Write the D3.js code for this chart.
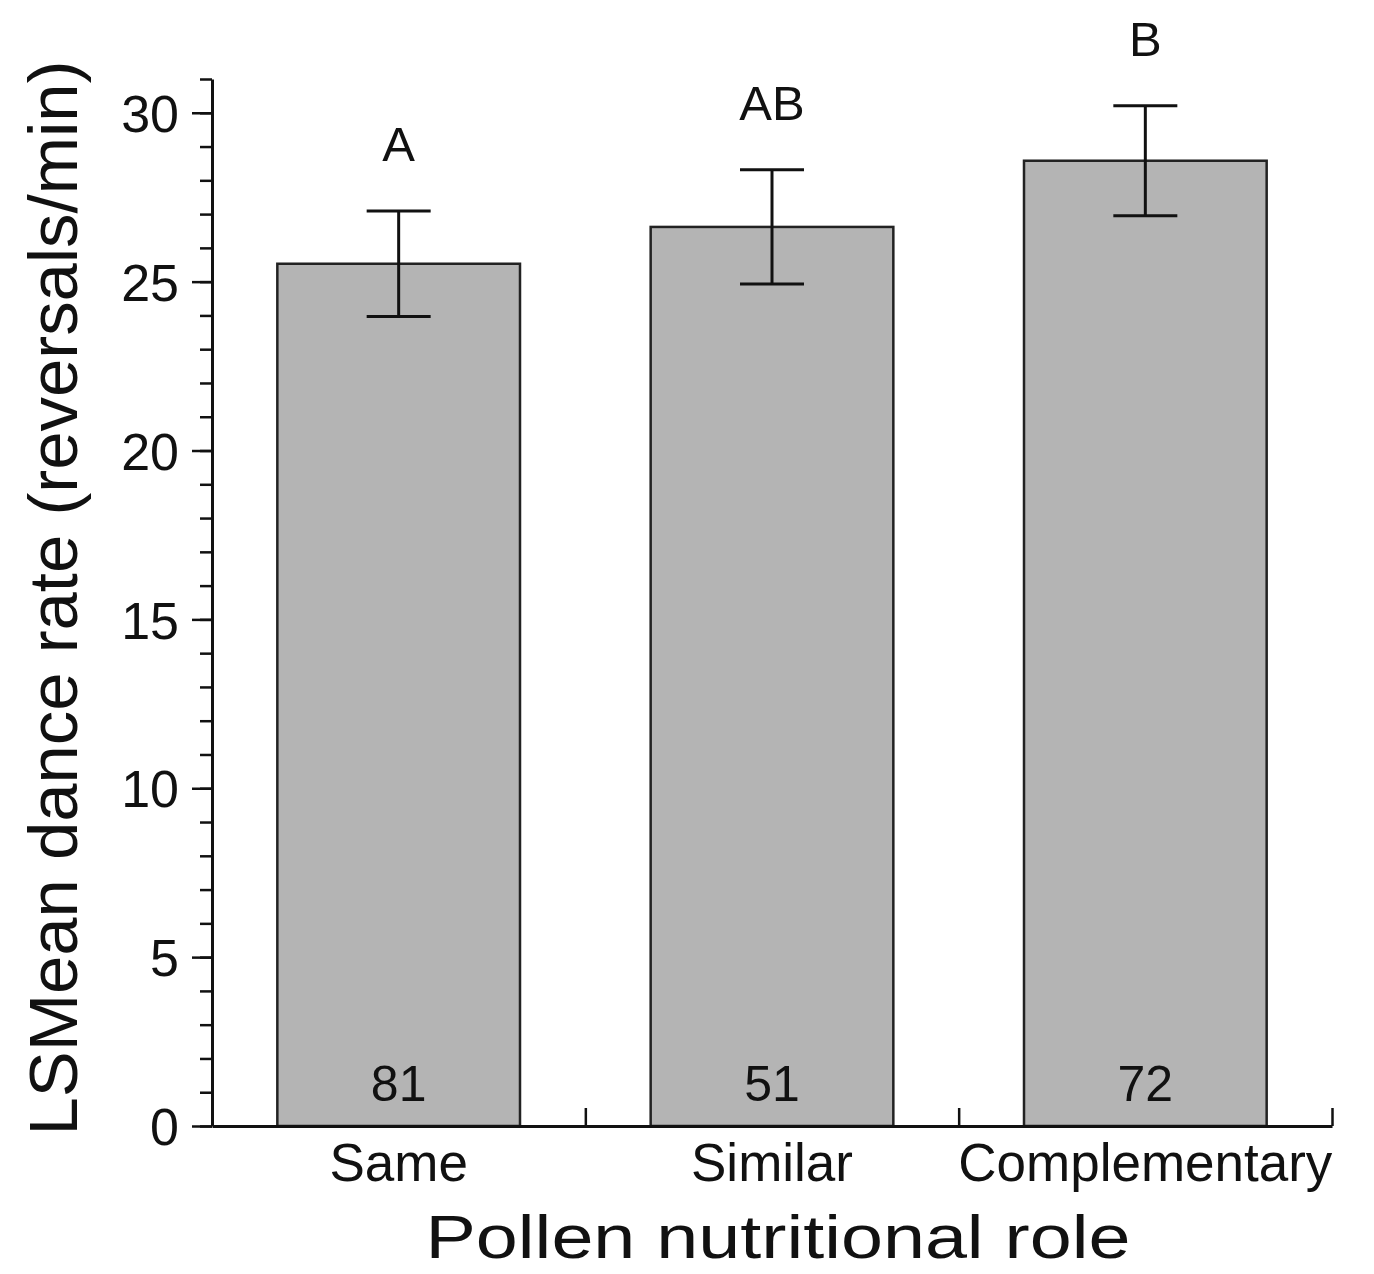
<!DOCTYPE html>
<html><head><meta charset="utf-8">
<script src="https://cdn.jsdelivr.net/npm/d3@7"></script>
<style>body{margin:0;background:#fff}svg{display:block}text{font-family:"Liberation Sans",Arial,sans-serif;fill:#111}</style>
</head><body>
<script>
const categories = ["Same", "Similar", "Complementary"];
const means = [25.53, 26.62, 28.58];
const errors = [1.56, 1.69, 1.63];
const counts = ["81", "51", "72"];
const letters = ["A", "AB", "B"];
const yTicks = [0, 5, 10, 15, 20, 25, 30];
const yMinorTicks = d3.range(0, 32, 1);

const W = 1374, H = 1274;
const svg = d3.select("body").append("svg").attr("width", W).attr("height", H);

const x = d3.scaleBand().domain(categories).range([212, 1332]).paddingInner(0.35).paddingOuter(0.175);
const xb = d3.scaleLinear().domain([0, 3]).range([212, 1332]);
const y = d3.scaleLinear().domain([0, 31]).range([1126, 79]);

// bars
svg.selectAll("rect.bar").data(categories).enter().append("rect")
  .attr("x", d => x(d)).attr("width", x.bandwidth())
  .attr("y", (d, i) => y(means[i])).attr("height", (d, i) => y(0) - y(means[i]))
  .attr("fill", "#b4b4b4").attr("stroke", "#222").attr("stroke-width", 2.5);

// error bars
const cx = d => x(d) + x.bandwidth() / 2;
const eb = svg.append("g").attr("stroke", "#111").attr("stroke-width", 3);
categories.forEach((c, i) => {
  const hi = y(means[i] + errors[i]), lo = y(means[i] - errors[i]);
  eb.append("line").attr("x1", cx(c)).attr("x2", cx(c)).attr("y1", hi).attr("y2", lo);
  eb.append("line").attr("x1", cx(c) - 32).attr("x2", cx(c) + 32).attr("y1", hi).attr("y2", hi);
  eb.append("line").attr("x1", cx(c) - 32).attr("x2", cx(c) + 32).attr("y1", lo).attr("y2", lo);
  svg.append("text").attr("x", cx(c)).attr("y", hi - 50).attr("text-anchor", "middle")
    .attr("font-size", 49).text(letters[i]);
  svg.append("text").attr("x", cx(c)).attr("y", y(0) - 25).attr("text-anchor", "middle")
    .attr("font-size", 50).text(counts[i]);
});

// y axis
const yMinor = svg.append("g").attr("transform", "translate(212,0)")
  .call(d3.axisLeft(y).tickValues(yMinorTicks).tickSize(12).tickFormat(""));
yMinor.selectAll("line").attr("stroke", "#111").attr("stroke-width", 2.5);
yMinor.select(".domain").remove();
const yAx = svg.append("g").attr("transform", "translate(212,0)")
  .call(d3.axisLeft(y).tickValues(yTicks).tickSize(20).tickSizeOuter(0).tickPadding(13));
yAx.select(".domain").attr("stroke", "#111").attr("stroke-width", 3);
yAx.selectAll("line").attr("stroke", "#111").attr("stroke-width", 2.5);
yAx.selectAll("text").attr("font-size", 52).attr("fill", "#111").attr("dy", "0.36em")
  .style("font-family", '"Liberation Sans",Arial,sans-serif');

// x axis
const xAx = svg.append("g").attr("transform", `translate(0,${y(0)})`)
  .call(d3.axisBottom(xb).tickValues([1, 2, 3]).tickSize(-18).tickSizeOuter(0).tickFormat(""));
xAx.select(".domain").attr("stroke", "#111").attr("stroke-width", 3);
xAx.selectAll("line").attr("stroke", "#111").attr("stroke-width", 2.5);
svg.append("g").selectAll("text").data(categories).enter().append("text")
  .attr("x", d => cx(d)).attr("y", 1181).attr("text-anchor", "middle")
  .attr("font-size", 53).text(d => d);

// axis titles
svg.append("text").attr("x", 778).attr("y", 1258).attr("text-anchor", "middle")
  .attr("font-size", 62).attr("textLength", 705).attr("lengthAdjust", "spacingAndGlyphs")
  .text("Pollen nutritional role");
svg.append("text").attr("transform", "translate(77,598) rotate(-90)").attr("text-anchor", "middle")
  .attr("font-size", 68).attr("textLength", 1075).attr("lengthAdjust", "spacingAndGlyphs")
  .text("LSMean dance rate (reversals/min)");
</script>
</body></html>
